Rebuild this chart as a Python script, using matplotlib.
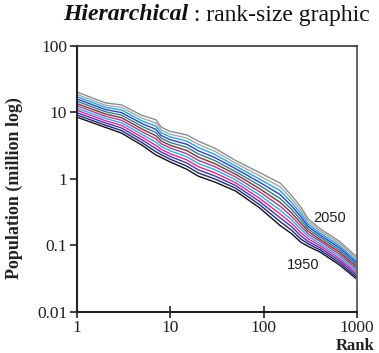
import matplotlib
matplotlib.use("Agg")
import matplotlib.pyplot as plt
from matplotlib.ticker import FixedLocator, NullLocator, FixedFormatter

ranks = [1, 2, 3, 5, 7, 8, 10, 15, 20, 30, 50, 90, 150, 200, 250, 300, 400, 650, 1000]

years = [1950, 1960, 1970, 1980, 1990, 2000, 2005, 2010, 2020, 2030, 2040, 2050]
pop_1950 = [8.5, 6.0, 4.9, 3.2, 2.3, 2.1, 1.8, 1.4, 1.1, 0.9, 0.66, 0.37, 0.20, 0.15, 0.112, 0.097, 0.080, 0.051, 0.031]
pop_1960 = [9.18, 6.47, 5.35, 3.51, 2.57, 2.31, 1.98, 1.56, 1.23, 1.00, 0.728, 0.413, 0.229, 0.169, 0.125, 0.106, 0.0861, 0.0550, 0.0332]
pop_1970 = [9.95, 7.00, 5.85, 3.86, 2.87, 2.54, 2.18, 1.74, 1.37, 1.11, 0.800, 0.461, 0.261, 0.191, 0.140, 0.115, 0.0927, 0.0592, 0.0356]
pop_1980 = [10.8, 7.55, 6.40, 4.24, 3.21, 2.79, 2.40, 1.94, 1.53, 1.24, 0.881, 0.515, 0.299, 0.215, 0.156, 0.126, 0.0998, 0.0637, 0.0382]
pop_1990 = [11.6, 8.16, 6.98, 4.66, 3.59, 3.07, 2.65, 2.16, 1.71, 1.38, 0.970, 0.575, 0.341, 0.242, 0.175, 0.137, 0.107, 0.0687, 0.0410]
pop_2000 = [12.6, 8.81, 7.64, 5.12, 4.01, 3.38, 2.92, 2.40, 1.91, 1.53, 1.07, 0.644, 0.390, 0.273, 0.195, 0.149, 0.116, 0.0739, 0.0440]
pop_2005 = [13.6, 9.53, 8.34, 5.62, 4.48, 3.72, 3.21, 2.68, 2.13, 1.70, 1.18, 0.719, 0.446, 0.308, 0.218, 0.163, 0.124, 0.0796, 0.0472]
pop_2010 = [14.8, 10.3, 9.12, 6.18, 5.00, 4.09, 3.53, 2.99, 2.38, 1.89, 1.29, 0.803, 0.510, 0.347, 0.244, 0.177, 0.134, 0.0857, 0.0506]
pop_2020 = [16.0, 11.1, 9.96, 6.79, 5.58, 4.50, 3.89, 3.33, 2.65, 2.10, 1.43, 0.897, 0.583, 0.391, 0.272, 0.193, 0.144, 0.0923, 0.0543]
pop_2030 = [17.3, 12.0, 10.9, 7.45, 6.25, 4.95, 4.29, 3.71, 2.97, 2.34, 1.57, 1.00, 0.667, 0.441, 0.304, 0.210, 0.155, 0.0993, 0.0582]
pop_2040 = [18.7, 12.9, 11.9, 8.18, 6.98, 5.45, 4.72, 4.13, 3.31, 2.61, 1.73, 1.12, 0.762, 0.497, 0.340, 0.229, 0.167, 0.107, 0.0624]
pop_2050 = [20.3, 14.0, 13.0, 9.0, 7.8, 6.0, 5.2, 4.6, 3.7, 2.9, 1.9, 1.25, 0.87, 0.56, 0.38, 0.25, 0.18, 0.115, 0.067]

series = [pop_1950, pop_1960, pop_1970, pop_1980, pop_1990, pop_2000,
          pop_2005, pop_2010, pop_2020, pop_2030, pop_2040, pop_2050]
colors = ["#111111", "#25257f", "#3a3ab8", "#ff1a90", "#1ab4f0", "#a040a0",
          "#9b2a2a", "#138c8c", "#3a3ad0", "#1aa8e8", "#a4a8ac", "#8a8e92"]

x_ticks = [1, 10, 100, 1000]
x_labels = ["1", "10", "100", "1000"]
y_ticks = [0.01, 0.1, 1, 10, 100]
y_labels = ["0.01", "0.1", "1", "10", "100"]

serif = "Liberation Serif"
sans = "Liberation Sans"

fig = plt.figure(figsize=(3.79, 3.53), dpi=100)
ax = fig.add_axes([77/379, 1-312/353, (357-77)/379, (312-46)/353])

for yr, vals, c in zip(years, series, colors):
    ax.plot(ranks, vals, color=c, lw=1.0, solid_joinstyle="round")

ax.set_xscale("log")
ax.set_yscale("log")
ax.set_xlim(1, 1000)
ax.set_ylim(0.01, 100)
ax.xaxis.set_major_locator(FixedLocator(x_ticks))
ax.xaxis.set_major_formatter(FixedFormatter(x_labels))
ax.yaxis.set_major_locator(FixedLocator(y_ticks))
ax.yaxis.set_major_formatter(FixedFormatter(y_labels))
ax.xaxis.set_minor_locator(NullLocator())
ax.yaxis.set_minor_locator(NullLocator())
ax.tick_params(axis="x", direction="inout", length=8, width=1.2, pad=2, labelsize=12.5, colors="#222222")
ax.tick_params(axis="y", direction="out", length=5, width=1.2, pad=2, labelsize=12.5, colors="#222222")
for lab in ax.get_xticklabels() + ax.get_yticklabels():
    lab.set_fontfamily(serif)

for s in ["left", "bottom"]:
    ax.spines[s].set_linewidth(1.5)
    ax.spines[s].set_color("#222222")
ax.spines["top"].set_linewidth(1.2)
ax.spines["top"].set_color("#333333")
ax.spines["right"].set_linewidth(1.4)
ax.spines["right"].set_color("#666666")

ax.text(515, 0.26, "2050", fontsize=10.5, family=sans, ha="center", va="center", color="#222222")
ax.text(264, 0.051, "1950", fontsize=10.5, family=sans, ha="center", va="center", color="#222222")

fig.text(14/379, 1-188/353, "Population (million log)", rotation=90, fontsize=13,
         fontweight="bold", family=serif, ha="center", va="center", color="#222222")
fig.text(355/379, 1-346/353, "Rank", fontsize=12, fontweight="bold", family=serif,
         ha="center", va="center", color="#222222")

t1 = fig.text(63/379, 1-15/353, "Hierarchical", fontsize=17, fontweight="bold", style="italic",
              family=serif, ha="left", va="center", color="#111111")
fig.canvas.draw()
bb = t1.get_window_extent(renderer=fig.canvas.get_renderer())
fig.text(bb.x1 / fig.bbox.width, 1-15/353, " : rank-size graphic", fontsize=17, family=serif,
         ha="left", va="center", color="#111111")

fig.savefig("out.png", dpi=100)
